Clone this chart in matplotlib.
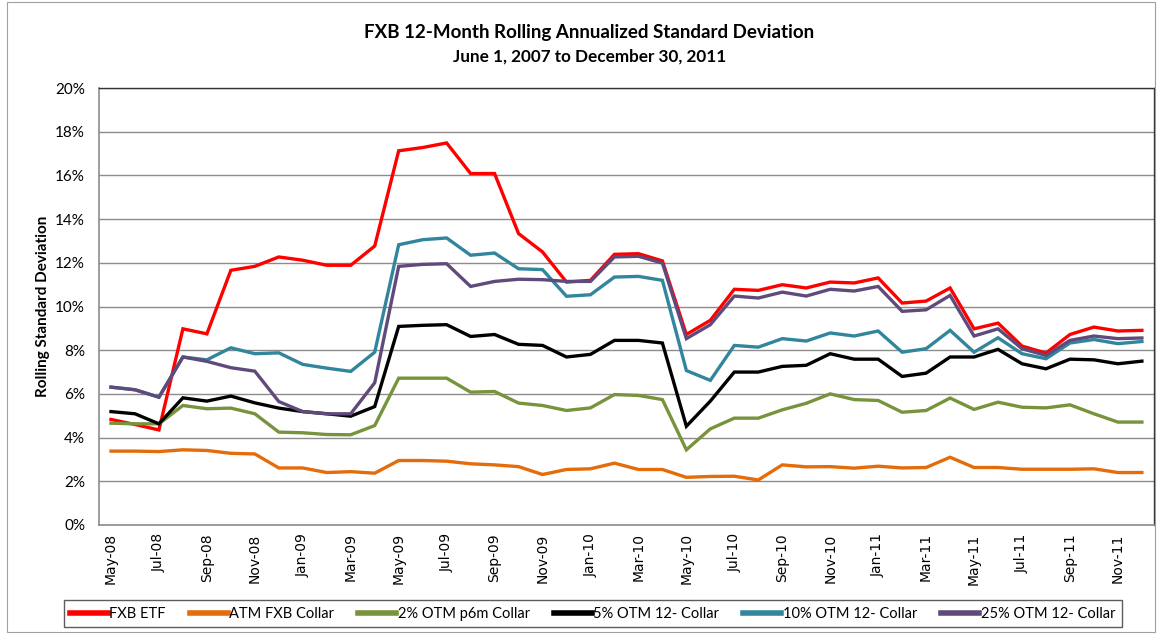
import matplotlib
matplotlib.use("Agg")
import matplotlib.pyplot as plt
from matplotlib.patches import Rectangle
from matplotlib.ticker import FuncFormatter

plt.rcParams['font.family'] = ['Lato', 'DejaVu Sans']

months = ['May-08', 'Jun-08', 'Jul-08', 'Aug-08', 'Sep-08', 'Oct-08', 'Nov-08', 'Dec-08',
          'Jan-09', 'Feb-09', 'Mar-09', 'Apr-09', 'May-09', 'Jun-09', 'Jul-09', 'Aug-09',
          'Sep-09', 'Oct-09', 'Nov-09', 'Dec-09', 'Jan-10', 'Feb-10', 'Mar-10', 'Apr-10',
          'May-10', 'Jun-10', 'Jul-10', 'Aug-10', 'Sep-10', 'Oct-10', 'Nov-10', 'Dec-10',
          'Jan-11', 'Feb-11', 'Mar-11', 'Apr-11', 'May-11', 'Jun-11', 'Jul-11', 'Aug-11',
          'Sep-11', 'Oct-11', 'Nov-11', 'Dec-11']

fxb_etf = [4.83, 4.60, 4.35, 8.98, 8.75, 11.66, 11.84, 12.27, 12.12, 11.89, 11.89, 12.77,
           17.13, 17.28, 17.49, 16.09, 16.09, 13.34, 12.50, 11.12, 11.20, 12.39, 12.42, 12.09,
           8.72, 9.37, 10.79, 10.74, 11.00, 10.85, 11.12, 11.08, 11.31, 10.16, 10.25, 10.85,
           8.98, 9.24, 8.19, 7.87, 8.72, 9.06, 8.88, 8.91]
atm_collar = [3.38, 3.38, 3.36, 3.44, 3.41, 3.28, 3.25, 2.61, 2.61, 2.40, 2.44, 2.37,
              2.95, 2.95, 2.92, 2.80, 2.75, 2.67, 2.31, 2.54, 2.57, 2.83, 2.54, 2.54,
              2.18, 2.22, 2.23, 2.06, 2.75, 2.66, 2.67, 2.60, 2.69, 2.61, 2.63, 3.10,
              2.63, 2.63, 2.55, 2.55, 2.55, 2.57, 2.40, 2.40]
otm2_p6m = [4.66, 4.63, 4.63, 5.47, 5.32, 5.35, 5.09, 4.25, 4.22, 4.14, 4.13, 4.55,
            6.72, 6.72, 6.72, 6.08, 6.11, 5.58, 5.47, 5.24, 5.36, 5.97, 5.93, 5.74,
            3.44, 4.40, 4.89, 4.89, 5.27, 5.57, 6.00, 5.74, 5.70, 5.16, 5.24, 5.81,
            5.29, 5.62, 5.39, 5.36, 5.50, 5.09, 4.71, 4.71]
otm5_12 = [5.19, 5.09, 4.63, 5.82, 5.67, 5.90, 5.59, 5.35, 5.19, 5.09, 4.98, 5.42,
           9.09, 9.14, 9.17, 8.63, 8.72, 8.27, 8.22, 7.69, 7.81, 8.45, 8.45, 8.33,
           4.52, 5.67, 7.00, 7.00, 7.26, 7.31, 7.84, 7.59, 7.59, 6.80, 6.95, 7.69,
           7.69, 8.04, 7.38, 7.15, 7.59, 7.56, 7.38, 7.50]
otm10_12 = [6.31, 6.19, 5.85, 7.69, 7.56, 8.11, 7.84, 7.88, 7.35, 7.18, 7.03, 7.91,
            12.83, 13.06, 13.14, 12.35, 12.45, 11.73, 11.69, 10.47, 10.54, 11.35, 11.38, 11.20,
            7.07, 6.62, 8.22, 8.14, 8.53, 8.42, 8.79, 8.65, 8.88, 7.91, 8.07, 8.91,
            7.91, 8.57, 7.84, 7.61, 8.33, 8.49, 8.30, 8.40]
otm25_12 = [6.31, 6.19, 5.85, 7.69, 7.49, 7.20, 7.04, 5.65, 5.19, 5.09, 5.09, 6.51,
            11.84, 11.93, 11.96, 10.92, 11.15, 11.25, 11.23, 11.15, 11.15, 12.27, 12.30, 11.99,
            8.53, 9.17, 10.48, 10.39, 10.66, 10.48, 10.79, 10.71, 10.92, 9.78, 9.85, 10.51,
            8.65, 8.98, 8.07, 7.76, 8.45, 8.65, 8.53, 8.56]

series = [
    ('FXB ETF', fxb_etf, '#FF0000'),
    ('ATM FXB Collar', atm_collar, '#E46C0A'),
    ('2% OTM p6m Collar', otm2_p6m, '#77933C'),
    ('5% OTM 12- Collar', otm5_12, '#000000'),
    ('10% OTM 12- Collar', otm10_12, '#31859C'),
    ('25% OTM 12- Collar', otm25_12, '#604A7B'),
]

fig = plt.figure(figsize=(11.62, 6.34), dpi=100)
fig.patches.append(Rectangle((0.006, 0.003), 0.988, 0.994, transform=fig.transFigure,
                             fill=False, edgecolor='#A0A0A0', linewidth=0.8))
ax = fig.add_axes([0.0852, 0.172, 0.9078, 0.689])

x = list(range(len(months)))
for name, vals, color in series:
    ax.plot(x, vals, color=color, linewidth=2.4, label=name, solid_joinstyle='miter')

ax.set_xlim(-0.5, len(months) - 0.5)
ax.set_ylim(0, 20)
ax.set_yticks(range(0, 21, 2))
ax.yaxis.set_major_formatter(FuncFormatter(lambda v, p: f'{v:.0f}%'))
ax.set_xticks(x[::2])
ax.set_xticklabels(months[::2], rotation=90, fontsize=10, family=['DejaVu Sans'])
ax.tick_params(axis='y', length=0, pad=10, labelsize=11)
ax.tick_params(axis='x', length=0, pad=6)
ax.grid(axis='y', color='#8C8C8C', linewidth=1)
ax.set_axisbelow(True)
for s in ['left', 'bottom']:
    ax.spines[s].set_color('#8C8C8C')
    ax.spines[s].set_linewidth(1.2)
for s in ['top', 'right']:
    ax.spines[s].set_color('#333333')
    ax.spines[s].set_linewidth(1)

ax.set_ylabel('Rolling Standard Deviation', fontsize=11, fontweight='bold', labelpad=4)

fig.text(0.507, 0.949, 'FXB 12-Month Rolling Annualized Standard Deviation',
         ha='center', va='center', fontsize=13.5, fontweight='bold')
fig.text(0.507, 0.911, 'June 1, 2007 to December 30, 2011',
         ha='center', va='center', fontsize=12.3, fontweight='bold')

leg = fig.legend(loc='center', bbox_to_anchor=(0.510, 0.032), ncol=6, fontsize=10.5,
                 frameon=True, fancybox=False, edgecolor='#333333', handlelength=2.6,
                 handletextpad=0.1, columnspacing=1.65, borderpad=0.45)
leg.get_frame().set_linewidth(1)
for line in leg.get_lines():
    line.set_linewidth(4)

fig.savefig('out.png', dpi=100)
